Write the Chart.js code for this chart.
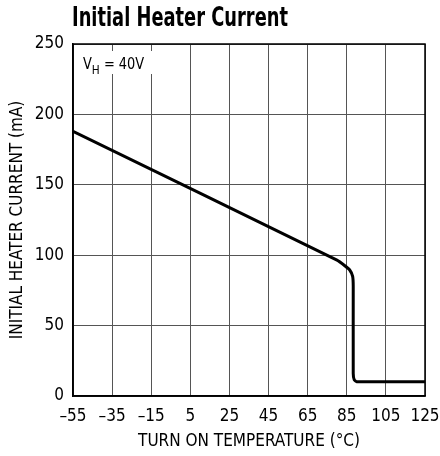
<!DOCTYPE html>
<html>
<head>
<meta charset="utf-8">
<script src="https://cdn.jsdelivr.net/npm/chart.js@4"></script>
<style>
  html, body { margin: 0; padding: 0; background: #fff; }
  #wrap { width: 440px; height: 456px; }
</style>
</head>
<body>
<div id="wrap"><canvas id="chart"></canvas></div>
<script>
// Curve (turn on temperature in °C, current in mA)
const temps = [-55, 80, 84, 86.5, 88, 88.3, 88.3, 88.8, 90, 125];
const current = [188, 96.5, 92.5, 89.5, 85, 78, 16, 11.5, 10.2, 10.2];

// Tick labels
const xTicks = [-55, -35, -15, 5, 25, 45, 65, 85, 105, 125];
const yTicks = [0, 50, 100, 150, 200, 250];

const FONT = '"Liberation Sans Narrow", "DejaVu Sans Condensed", "Liberation Sans", Arial, sans-serif';

// Title, frame and the V_H note drawn on the canvas
const extras = {
  id: 'extras',
  afterDraw(chart) {
    const ctx = chart.ctx;
    const area = chart.chartArea;
    ctx.save();

    // black frame round the plot
    ctx.strokeStyle = '#000';
    ctx.lineWidth = 1.5;
    ctx.strokeRect(area.left, area.top, area.right - area.left, area.bottom - area.top);

    ctx.fillStyle = '#000';
    ctx.textBaseline = 'alphabetic';

    // title, squeezed to look like a narrow face
    ctx.font = 'bold 26px ' + FONT;
    const title = 'Initial Heater Current';
    const sx = 216 / ctx.measureText(title).width;
    ctx.save();
    ctx.translate(72, 26);
    ctx.scale(sx, 1);
    ctx.fillText(title, 0, 0);
    ctx.restore();

    // white box behind the note
    ctx.fillStyle = '#fff';
    ctx.fillRect(area.left + 2, 51, 86, 23);
    ctx.fillStyle = '#000';
    ctx.save();
    ctx.translate(area.left + 10, 0);
    ctx.scale(0.9, 1);
    let x = 0;
    ctx.font = '16px ' + FONT;
    ctx.fillText('V', x, 69);
    x += ctx.measureText('V').width;
    ctx.font = '13px ' + FONT;
    ctx.fillText('H', x, 74);
    x += ctx.measureText('H').width;
    ctx.font = '16px ' + FONT;
    ctx.fillText(' = 40V', x, 69);
    ctx.restore();
    ctx.restore();
  }
};

const ctx = document.getElementById('chart').getContext('2d');
new Chart(ctx, {
  type: 'scatter',
  data: {
    datasets: [{
      data: temps.map((t, i) => ({ x: t, y: current[i] })),
      showLine: true,
      borderColor: '#000',
      borderWidth: 3,
      pointRadius: 0,
      tension: 0.15
    }]
  },
  options: {
    responsive: true,
    maintainAspectRatio: false,
    animation: false,
    layout: { padding: { top: 44, right: 0, left: 0, bottom: 0 } },
    plugins: { legend: { display: false }, tooltip: { enabled: false } },
    scales: {
      x: {
        type: 'linear',
        min: -55,
        max: 125,
        afterBuildTicks: s => { s.ticks = xTicks.map(v => ({ value: v })); },
        afterFit: s => {
          s.height = 60;
          s.paddingLeft = 0;
          s.paddingRight = 15;
        },
        ticks: {
          color: '#000',
          font: { family: FONT, size: 17 },
          padding: 10,
          maxRotation: 0,
          autoSkip: false,
          callback: v => String(v).replace('-', '\u2013')
        },
        grid: { color: '#555', lineWidth: 1, drawTicks: false },
        border: { display: true, color: '#000', width: 1.5 },
        title: {
          display: true,
          text: 'TURN ON TEMPERATURE (°C)',
          color: '#000',
          font: { family: FONT, size: 17 },
          padding: { top: 0, bottom: 4 }
        }
      },
      y: {
        min: 0,
        max: 250,
        afterBuildTicks: s => { s.ticks = yTicks.map(v => ({ value: v })); },
        afterFit: s => { s.width = 73; },
        ticks: {
          color: '#000',
          font: { family: FONT, size: 17 },
          padding: 9,
          autoSkip: false
        },
        grid: { color: '#555', lineWidth: 1, drawTicks: false },
        border: { display: true, color: '#000', width: 1.5 },
        title: {
          display: true,
          text: 'INITIAL HEATER CURRENT (mA)',
          color: '#000',
          font: { family: FONT, size: 17 },
          padding: { top: 7, bottom: 0 }
        }
      }
    }
  },
  plugins: [extras]
});
</script>
</body>
</html>
